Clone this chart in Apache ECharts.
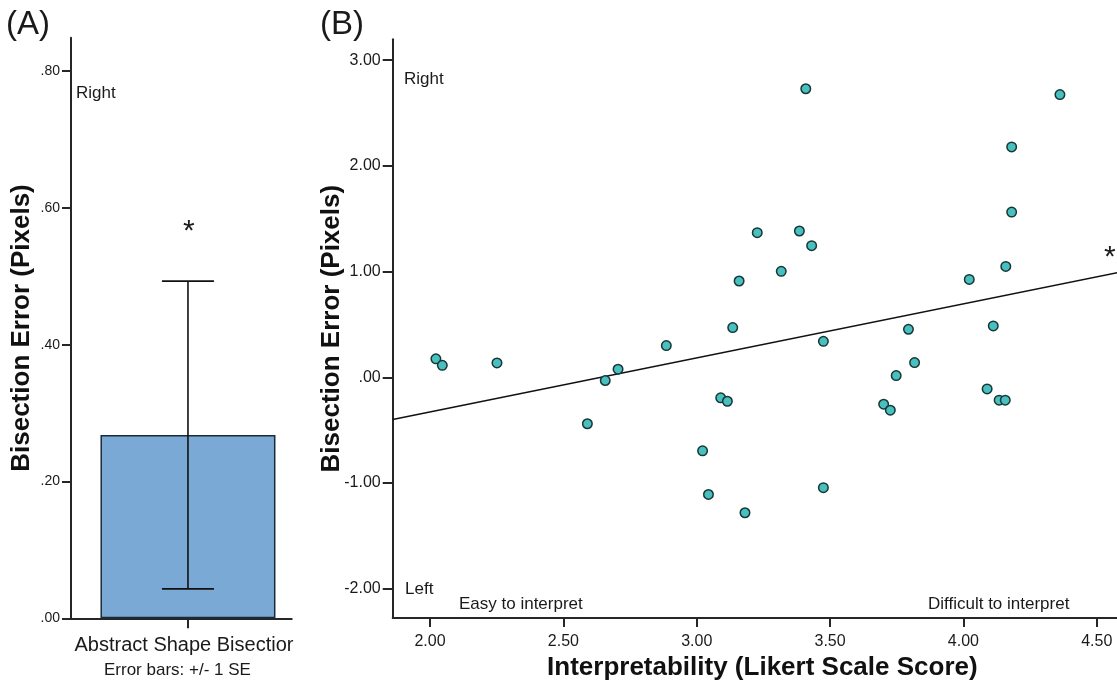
<!DOCTYPE html>
<html>
<head>
<meta charset="utf-8">
<script src="https://cdn.jsdelivr.net/npm/echarts@6/dist/echarts.min.js"></script>
<style>
  html, body { margin: 0; padding: 0; background: #ffffff; }
  #chart { width: 1117px; height: 686px; }
</style>
</head>
<body>
<div id="chart"></div>
<script>
// Panel A: mean bisection error with +/- 1 SE
const barCategory = 'Abstract Shape Bisectior';
const barMean = [0.268];
const barSE = [0.225];
const panelATicks = [0, 0.2, 0.4, 0.6, 0.8];

// Panel B: interpretability score vs bisection error, one point per participant
const interpretability = [
  2.022, 2.046, 2.251, 2.590, 2.657, 2.705, 2.886, 3.022, 3.044, 3.090,
  3.115, 3.135, 3.159, 3.181, 3.227, 3.317, 3.385, 3.409, 3.431, 3.475,
  3.475, 3.701, 3.726, 3.748, 3.794, 3.817, 4.022, 4.089, 4.112, 4.134,
  4.157, 4.159, 4.181, 4.181, 4.362
];
const bisectionError = [
  0.174, 0.113, 0.136, -0.440, -0.031, 0.076, 0.300, -0.696, -1.109, -0.195,
  -0.227, 0.470, 0.911, -1.282, 1.368, 1.002, 1.384, 2.730, 1.245, 0.340,
  -1.045, -0.255, -0.312, 0.016, 0.454, 0.139, 0.926, -0.110, 0.486, -0.217,
  -0.217, 1.049, 2.180, 1.563, 2.675
];
const panelBXTicks = [2.0, 2.5, 3.0, 3.5, 4.0, 4.5];
const panelBYTicks = [-2, -1, 0, 1, 2, 3];

// Linear fit line endpoints (x, y)
const fitX = [1.86, 4.58];
const fitY = [-0.40, 0.99];

const FONT = '"Liberation Sans", Arial, Helvetica, sans-serif';
const INK = '#1a1a1a';
const AXIS = '#262626';

// SPSS-style number labels: ".80", "-1.00"
function fmt(v) {
  const s = Math.abs(v).toFixed(2).replace(/^0/, '');
  return (v < 0 ? '-' : '') + s;
}

const scatterData = interpretability.map((x, i) => [x, bisectionError[i]]);
const fitData = fitX.map((x, i) => [x, fitY[i]]);

// horizontal slot of the bar on panel A's 0..1 axis
const barSlot = 0.53;
const barData = barMean.map(m => [barSlot, m]);
const errData = barMean.map((m, i) => [barSlot, m - barSE[i], m + barSE[i]]);

const axisLineStyle = { color: AXIS, width: 2 };

const chart = echarts.init(document.getElementById('chart'), null, { renderer: 'canvas' });

chart.setOption({
  backgroundColor: '#ffffff',
  animation: false,
  textStyle: { fontFamily: FONT },
  grid: [
    { left: 71, top: 37.7, width: 220.7, height: 580.6 },
    { left: 392.7, top: 39.3, right: 0, height: 579.4 }
  ],
  xAxis: [
    {
      gridIndex: 0, type: 'value', min: 0, max: 1,
      axisLine: { show: true, onZero: false, lineStyle: axisLineStyle },
      axisTick: { show: true, customValues: [barSlot], length: 10, lineStyle: { color: AXIS, width: 2 } },
      axisLabel: {
        customValues: [barSlot],
        formatter: () => barCategory,
        margin: 17, fontSize: 20, color: INK, fontFamily: FONT,
        padding: [0, 8, 0, 0]
      },
      splitLine: { show: false }
    },
    {
      gridIndex: 1, type: 'value', min: 1.86, max: 4.576,
      name: 'Interpretability (Likert Scale Score)',
      nameLocation: 'middle', nameGap: 37, nameMoveOverlap: false,
      nameTextStyle: { fontSize: 26, fontWeight: 'bold', color: '#111', fontFamily: FONT, padding: [0, 0, 0, 15] },
      axisLine: { show: true, onZero: false, lineStyle: axisLineStyle },
      axisTick: { show: true, customValues: panelBXTicks, length: 9, lineStyle: { color: AXIS, width: 2 } },
      axisLabel: { customValues: panelBXTicks, formatter: fmt, margin: 16, fontSize: 16, color: INK, fontFamily: FONT },
      splitLine: { show: false }
    }
  ],
  yAxis: [
    {
      gridIndex: 0, type: 'value', min: 0, max: 0.849,
      name: 'Bisection Error (Pixels)',
      nameLocation: 'middle', nameGap: 36, nameMoveOverlap: false,
      nameTextStyle: { fontSize: 26, fontWeight: 'bold', color: '#111', fontFamily: FONT },
      axisLine: { show: true, onZero: false, lineStyle: axisLineStyle },
      axisTick: { show: true, customValues: panelATicks, length: 9, lineStyle: { color: AXIS, width: 2 } },
      axisLabel: { customValues: panelATicks, formatter: fmt, margin: 11, fontSize: 14, color: INK, fontFamily: FONT },
      splitLine: { show: false }
    },
    {
      gridIndex: 1, type: 'value', min: -2.278, max: 3.198,
      name: 'Bisection Error (Pixels)',
      nameLocation: 'middle', nameGap: 48, nameMoveOverlap: false,
      nameTextStyle: { fontSize: 26, fontWeight: 'bold', color: '#111', fontFamily: FONT },
      axisLine: { show: true, onZero: false, lineStyle: axisLineStyle },
      axisTick: { show: true, customValues: panelBYTicks, length: 10, lineStyle: { color: AXIS, width: 2 } },
      axisLabel: { customValues: panelBYTicks, formatter: fmt, margin: 12, fontSize: 16, color: INK, fontFamily: FONT },
      splitLine: { show: false }
    }
  ],
  series: [
    {
      type: 'bar', xAxisIndex: 0, yAxisIndex: 0,
      data: barData, barWidth: 175,
      itemStyle: { color: '#79a9d4', borderColor: '#1d2a3a', borderWidth: 1.5 },
      z: 2
    },
    {
      type: 'custom', xAxisIndex: 0, yAxisIndex: 0,
      data: errData,
      renderItem: function (params, api) {
        const x = api.value(0);
        const lo = api.coord([x, api.value(1)]);
        const hi = api.coord([x, api.value(2)]);
        const half = 26;
        const style = { stroke: '#111', lineWidth: 1.6 };
        return {
          type: 'group',
          children: [
            { type: 'line', shape: { x1: lo[0], y1: lo[1], x2: hi[0], y2: hi[1] }, style },
            { type: 'line', shape: { x1: hi[0] - half, y1: hi[1], x2: hi[0] + half, y2: hi[1] }, style },
            { type: 'line', shape: { x1: lo[0] - half, y1: lo[1], x2: lo[0] + half, y2: lo[1] }, style }
          ]
        };
      },
      z: 3
    },
    {
      type: 'line', xAxisIndex: 1, yAxisIndex: 1,
      data: fitData, symbol: 'none',
      lineStyle: { color: '#111', width: 1.5 },
      z: 2
    },
    {
      type: 'scatter', xAxisIndex: 1, yAxisIndex: 1,
      data: scatterData, symbol: 'circle', symbolSize: 9.5,
      itemStyle: { color: '#48c0bf', borderColor: '#173636', borderWidth: 1.5, opacity: 1 },
      z: 3
    }
  ],
  graphic: [
    { type: 'text', left: 6, top: 8, style: { text: '(A)', font: '33px ' + FONT, fill: INK } },
    { type: 'text', left: 320, top: 8, style: { text: '(B)', font: '33px ' + FONT, fill: INK } },
    { type: 'text', left: 76, top: 85, style: { text: 'Right', font: '17px ' + FONT, fill: INK } },
    { type: 'text', left: 183, top: 217, style: { text: '*', font: '30px ' + FONT, fill: INK } },
    { type: 'text', left: 404, top: 71, style: { text: 'Right', font: '17px ' + FONT, fill: INK } },
    { type: 'text', left: 405, top: 581, style: { text: 'Left', font: '17px ' + FONT, fill: INK } },
    { type: 'text', left: 459, top: 596, style: { text: 'Easy to interpret', font: '17px ' + FONT, fill: INK } },
    { type: 'text', left: 928, top: 596, style: { text: 'Difficult to interpret', font: '17px ' + FONT, fill: INK } },
    { type: 'text', left: 1104, top: 243, style: { text: '*', font: '30px ' + FONT, fill: INK } },
    { type: 'text', left: 104, top: 662, style: { text: 'Error bars: +/- 1 SE', font: '17px ' + FONT, fill: INK } }
  ]
});
</script>
</body>
</html>
